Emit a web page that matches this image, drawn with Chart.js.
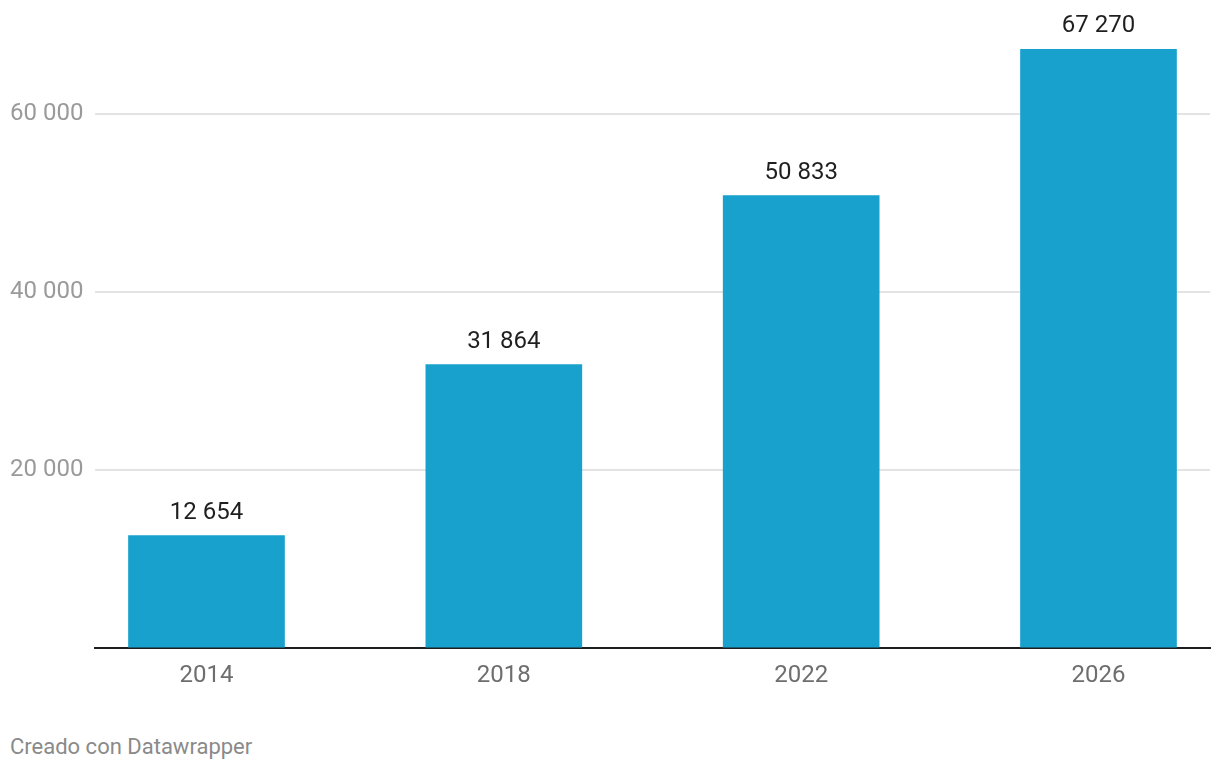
<!DOCTYPE html>
<html>
<head>
<meta charset="utf-8">
<script src="https://cdn.jsdelivr.net/npm/chart.js@4.4.1/dist/chart.umd.min.js"></script>
<style>
    html, body { margin: 0; padding: 0; background: #ffffff; }
    #wrap { position: relative; width: 1220px; height: 770px; }
    #chart { position: absolute; left: 0; top: 0; }
    #credit {
        position: absolute; left: 10px; top: 734px;
        font-family: Roboto, sans-serif; font-size: 22px; color: #8a8a8a;
    }
</style>
</head>
<body>
<div id="wrap">
    <canvas id="chart" width="1220" height="703"></canvas>
    <div id="credit">Creado con Datawrapper</div>
</div>
<script>
// Data
const years = [2014, 2018, 2022, 2026];
const values = [12654, 31864, 50833, 67270];
const yTicks = [20000, 40000, 60000];

const barColor = '#18a1cd';

// spaced number format: 12654 -> "12 654"
function fmt(n) {
    return String(n).replace(/\B(?=(\d{3})+(?!\d))/g, ' ');
}

Chart.defaults.font.family = "Roboto, sans-serif";

// value labels above each bar
const valueLabels = {
    id: 'valueLabels',
    afterDatasetsDraw(chart) {
        const ctx = chart.ctx;
        const meta = chart.getDatasetMeta(0);
        ctx.save();
        ctx.font = '24px Roboto, sans-serif';
        ctx.fillStyle = '#1f1f1f';
        ctx.textAlign = 'center';
        ctx.textBaseline = 'alphabetic';
        meta.data.forEach((bar, i) => {
            ctx.fillText(fmt(values[i]), bar.x, bar.y - 17);
        });
        ctx.restore();
    }
};

new Chart(document.getElementById('chart'), {
    type: 'bar',
    data: {
        datasets: [{
            data: years.map((y, i) => ({ x: y, y: values[i] })),
            backgroundColor: barColor,
            barThickness: 156,
            borderWidth: 0
        }]
    },
    options: {
        responsive: false,
        animation: false,
        layout: { padding: { left: 10, right: 10, top: 0, bottom: 0 } },
        plugins: {
            legend: { display: false },
            tooltip: { enabled: false }
        },
        scales: {
            x: {
                type: 'linear',
                offset: false,
                min: 2012.5,
                max: 2027.5,
                afterBuildTicks: axis => {
                    axis.ticks = years.map(v => ({ value: v }));
                },
                grid: { display: false, drawTicks: false, offset: false },
                border: { display: true, color: '#1d1d1d', width: 2 },
                ticks: {
                    color: '#6e6e6e',
                    font: { size: 24 },
                    padding: 13,
                    callback: v => String(v)
                }
            },
            y: {
                min: 0,
                max: 71200,
                afterBuildTicks: axis => {
                    axis.ticks = [0].concat(yTicks).map(v => ({ value: v }));
                },
                afterFit: axis => { axis.width = 85; },
                grid: {
                    color: ctx => ctx.tick && ctx.tick.value === 0 ? 'rgba(0,0,0,0)' : '#e3e3e3',
                    lineWidth: 2,
                    drawTicks: false
                },
                border: { display: false },
                ticks: {
                    color: '#9a9a9a',
                    font: { size: 24 },
                    crossAlign: 'far',
                    padding: 0,
                    callback: v => v === 0 ? '' : fmt(v)
                }
            }
        }
    },
    plugins: [valueLabels]
});
</script>
</body>
</html>
